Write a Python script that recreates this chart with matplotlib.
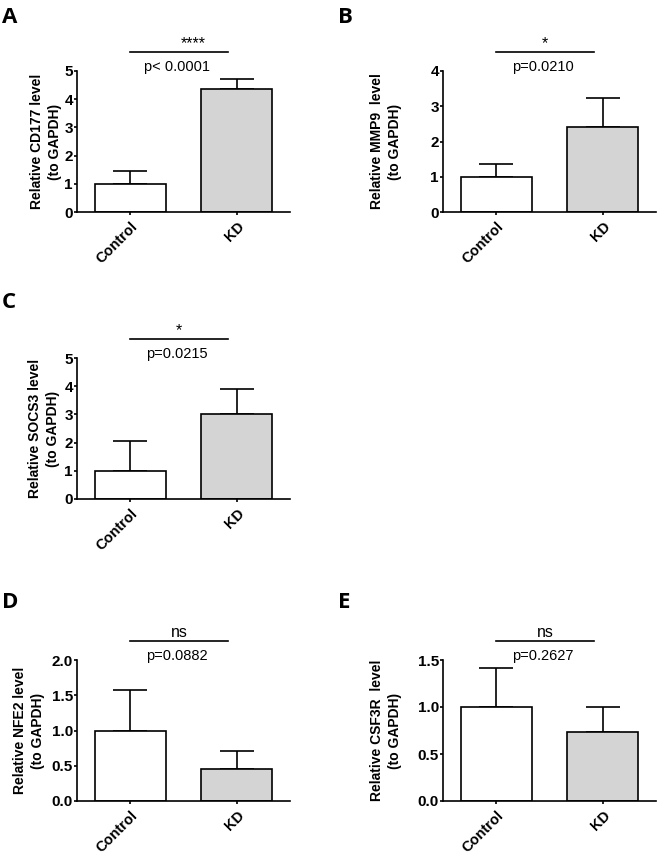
import matplotlib.pyplot as plt
import matplotlib.transforms as mtransforms
from matplotlib.ticker import FormatStrFormatter

# --- 1. Data ---
GROUPS = ["Control", "KD"]

CD177_MEAN = [1.0, 4.35]
CD177_ERR = [0.45, 0.35]
MMP9_MEAN = [1.0, 2.41]
MMP9_ERR = [0.35, 0.83]
SOCS3_MEAN = [1.0, 3.0]
SOCS3_ERR = [1.07, 0.91]
NFE2_MEAN = [1.0, 0.45]
NFE2_ERR = [0.57, 0.26]
CSF3R_MEAN = [1.0, 0.73]
CSF3R_ERR = [0.42, 0.27]

CD177_TICKS = [0, 1, 2, 3, 4, 5]
MMP9_TICKS = [0, 1, 2, 3, 4]
SOCS3_TICKS = [0, 1, 2, 3, 4, 5]
NFE2_TICKS = [0.0, 0.5, 1.0, 1.5, 2.0]
CSF3R_TICKS = [0.0, 0.5, 1.0, 1.5]

STARS = ["****", "*", "*", "ns", "ns"]
PVALUES = ["p< 0.0001", "p=0.0210", "p=0.0215", "p=0.0882", "p=0.2627"]
YLABELS = [
    "Relative CD177 level\n(to GAPDH)",
    "Relative MMP9  level\n(to GAPDH)",
    "Relative SOCS3 level\n(to GAPDH)",
    "Relative NFE2 level\n(to GAPDH)",
    "Relative CSF3R  level\n(to GAPDH)",
]
LETTERS = ["A", "B", "C", "D", "E"]

# --- 2. Layout / styles ---
W, H = 658, 860
AX_W, AX_H = 213, 141
# (left px, bottom px from top, ylabel right-edge offset px, letter x px, letter baseline px)
PANELS = [
    (77, 212, -15, 2, 23),
    (443, 212, -41, 338, 23),
    (77, 499, -17, 2, 308),
    (77, 801, -32, 2, 608),
    (443, 801, -41, 338, 608),
]
STAR_DX = [0.13, 0.0, 0.0, 0.0, 0.0]   # horizontal nudge of the star text (data units)
BAR_COLORS = ["white", "#d4d4d4"]
LW = 1.2
FONT = "Liberation Sans"

plt.rcParams["font.family"] = FONT

fig = plt.figure(figsize=(W / 100, H / 100), dpi=100)


def draw_panel(i, mean, err, ticks):
    left, bottom, lab_dx, let_x, let_y = PANELS[i]
    ax = fig.add_axes([left / W, 1 - bottom / H, AX_W / W, AX_H / H])
    x = range(len(GROUPS))
    ax.bar(x, mean, width=0.667, color=BAR_COLORS, edgecolor="black",
           linewidth=LW, zorder=2)
    ax.errorbar(x, mean, yerr=[[0] * len(err), err], fmt="none",
                ecolor="black", elinewidth=LW, capsize=12, capthick=LW,
                zorder=1)
    ax.set_xlim(-0.5, 1.5)
    ax.set_ylim(ticks[0], ticks[-1])
    ax.set_yticks(ticks)
    if isinstance(ticks[1], float):
        ax.yaxis.set_major_formatter(FormatStrFormatter("%.1f"))
    ax.set_xticks(list(x))
    ax.set_xticklabels(GROUPS, rotation=45, ha="right",
                       rotation_mode="anchor", fontsize=10.5, fontweight="bold")
    ax.tick_params(axis="both", direction="out", length=2.5, width=LW)
    ax.tick_params(axis="y", labelsize=11, pad=0.5)
    ax.tick_params(axis="x", pad=3)
    for lbl in ax.get_yticklabels():
        lbl.set_fontweight("bold")
    for s in ["top", "right"]:
        ax.spines[s].set_visible(False)
    for s in ["left", "bottom"]:
        ax.spines[s].set_linewidth(LW)

    ax.set_ylabel(YLABELS[i], fontsize=10, fontweight="bold", linespacing=1.35)
    ax.yaxis.set_label_coords(lab_dx / AX_W, 0.5)

    # significance bar
    trans = mtransforms.blended_transform_factory(ax.transData, ax.transAxes)
    y_line = 1 + 19.3 / AX_H
    ax.plot([0.0, 0.92], [y_line, y_line], color="black", lw=LW,
            transform=trans, clip_on=False)
    up = mtransforms.offset_copy(trans, fig=fig, y=4, units="dots")
    ax.text(0.46 + STAR_DX[i], y_line, STARS[i], ha="center", va="baseline",
            fontsize=11.5, transform=up)
    down = mtransforms.offset_copy(trans, fig=fig, y=-19, units="dots")
    ax.text(0.44, y_line, PVALUES[i], ha="center", va="baseline",
            fontsize=10.5, transform=down)

    fig.text(let_x / W, 1 - let_y / H, LETTERS[i], fontsize=16,
             fontweight="bold", family="Open Sans", ha="left", va="baseline")
    return ax


draw_panel(0, CD177_MEAN, CD177_ERR, CD177_TICKS)
draw_panel(1, MMP9_MEAN, MMP9_ERR, MMP9_TICKS)
draw_panel(2, SOCS3_MEAN, SOCS3_ERR, SOCS3_TICKS)
draw_panel(3, NFE2_MEAN, NFE2_ERR, NFE2_TICKS)
draw_panel(4, CSF3R_MEAN, CSF3R_ERR, CSF3R_TICKS)

fig.savefig("out.png", dpi=100)
